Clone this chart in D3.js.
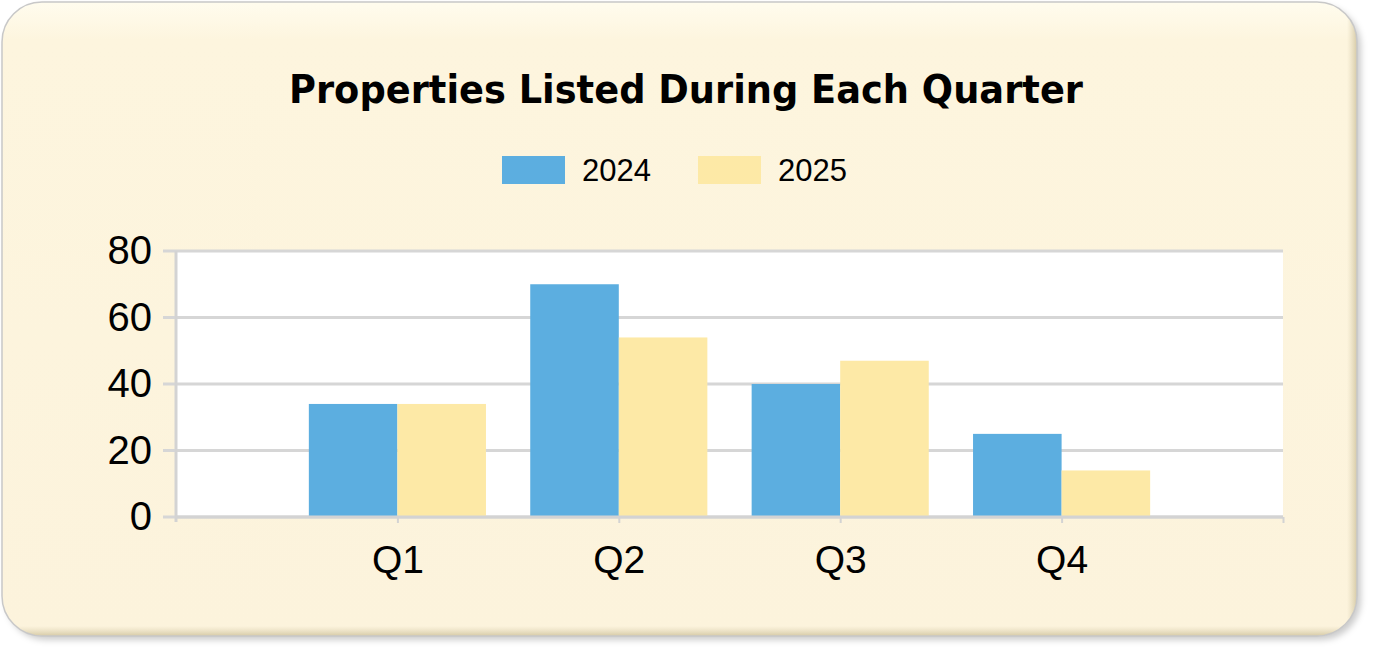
<!DOCTYPE html>
<html>
<head>
<meta charset="utf-8">
<script src="https://cdn.jsdelivr.net/npm/d3@7"></script>
<style>
html,body{margin:0;padding:0;background:#ffffff;}
svg{display:block;}
</style>
</head>
<body>
<svg id="chart" width="1373" height="651"></svg>
<script>
const categories = ["Q1", "Q2", "Q3", "Q4"];
const seriesNames = ["2024", "2025"];
const values2024 = [34, 70, 40, 25];
const values2025 = [34, 54, 47, 14];
const yTicks = [0, 20, 40, 60, 80];
const colors = ["#5caee0", "#fde9a6"];
const title = "Properties Listed During Each Quarter";

const svg = d3.select("#chart");
const defs = svg.append("defs");

const grad = defs.append("linearGradient").attr("id","bg").attr("x1",0).attr("y1",0).attr("x2",0).attr("y2",1);
grad.append("stop").attr("offset","0%").attr("stop-color","#fffcee");
grad.append("stop").attr("offset","6%").attr("stop-color","#fdf5de");
grad.append("stop").attr("offset","100%").attr("stop-color","#fcf3dc");

const sh = defs.append("filter").attr("id","shadow").attr("x","-5%").attr("y","-5%").attr("width","112%").attr("height","115%");
sh.append("feDropShadow").attr("dx",4).attr("dy",4).attr("stdDeviation",3).attr("flood-color","#000").attr("flood-opacity",0.2);

const ig = defs.append("linearGradient").attr("id","edgeR").attr("x1",0).attr("y1",0).attr("x2",1).attr("y2",0);
ig.append("stop").attr("offset","0%").attr("stop-color","#e0d6b8").attr("stop-opacity",0);
ig.append("stop").attr("offset","100%").attr("stop-color","#d6caa6").attr("stop-opacity",1);
const ib = defs.append("linearGradient").attr("id","edgeB").attr("x1",0).attr("y1",0).attr("x2",0).attr("y2",1);
ib.append("stop").attr("offset","0%").attr("stop-color","#e0d6b8").attr("stop-opacity",0);
ib.append("stop").attr("offset","100%").attr("stop-color","#d6caa6").attr("stop-opacity",1);

const card = {x:2, y:2, w:1355, h:634, r:40};
defs.append("clipPath").attr("id","cardClip").append("rect")
  .attr("x",card.x).attr("y",card.y).attr("width",card.w).attr("height",card.h).attr("rx",card.r);

svg.append("rect").attr("x",card.x).attr("y",card.y).attr("width",card.w).attr("height",card.h)
  .attr("rx",card.r).attr("fill","url(#bg)").attr("filter","url(#shadow)");
const edges = svg.append("g").attr("clip-path","url(#cardClip)");
edges.append("rect").attr("x",card.x+card.w-10).attr("y",card.y).attr("width",10).attr("height",card.h).attr("fill","url(#edgeR)");
edges.append("rect").attr("x",card.x).attr("y",card.y+card.h-10).attr("width",card.w).attr("height",10).attr("fill","url(#edgeB)");
svg.append("rect").attr("x",card.x).attr("y",card.y).attr("width",card.w).attr("height",card.h)
  .attr("rx",card.r).attr("fill","none").attr("stroke","#c8c8c8").attr("stroke-width",1.5);

// Title
svg.append("text").attr("x",686).attr("y",103).attr("text-anchor","middle")
  .attr("font-family","'DejaVu Sans', Verdana, sans-serif").attr("font-weight","bold")
  .attr("font-size",38.5).attr("fill","#000")
  .attr("textLength",794).attr("lengthAdjust","spacingAndGlyphs")
  .text(title);

// Legend
const legendX = [502, 698];
const lg = svg.append("g");
seriesNames.forEach((n,i)=>{
  lg.append("rect").attr("x",legendX[i]).attr("y",156).attr("width",63).attr("height",28).attr("fill",colors[i]);
  lg.append("text").attr("x",legendX[i]+80).attr("y",181)
    .attr("font-family","'Liberation Sans', Arial, sans-serif").attr("font-size",31).attr("fill","#000").text(n);
});

// Plot
const plot = {l:176, r:1283, t:251, b:517};
const x = d3.scaleLinear().domain([0, categories.length+1]).range([plot.l, plot.r]);
const y = d3.scaleLinear().domain([0, 80]).range([plot.b, plot.t]);
const step = x(1)-x(0);
const barW = step*0.4;

svg.append("rect").attr("x",plot.l).attr("y",plot.t).attr("width",plot.r-plot.l).attr("height",plot.b-plot.t).attr("fill","#fff");

const gridColor = "#d6d6d6";
svg.append("g").selectAll("line").data(yTicks).join("line")
  .attr("x1",plot.l-13).attr("x2",plot.r).attr("y1",d=>y(d)).attr("y2",d=>y(d))
  .attr("stroke",gridColor).attr("stroke-width",3);

// bars
const series = [values2024, values2025];
const barsG = svg.append("g");
series.forEach((vals,si)=>{
  barsG.selectAll(null).data(vals).join("rect")
    .attr("x",(d,i)=>x(i+1) - barW + si*barW)
    .attr("y",d=>y(d))
    .attr("width",barW)
    .attr("height",d=>y(0)-y(d))
    .attr("fill",colors[si]);
});

// axes
const yAxis = d3.axisLeft(y).tickValues(yTicks).tickSize(0).tickPadding(24);
const ya = svg.append("g").attr("transform",`translate(${plot.l},0)`).call(yAxis);
ya.select(".domain").remove();
ya.selectAll("text").attr("font-family","'Liberation Sans', Arial, sans-serif").attr("font-size",40).attr("fill","#000").attr("dy","0.32em");

svg.append("line").attr("x1",plot.l).attr("x2",plot.l).attr("y1",plot.t).attr("y2",plot.b+5)
  .attr("stroke","#d3d3d3").attr("stroke-width",3);
svg.append("line").attr("x1",plot.l).attr("x2",plot.r).attr("y1",plot.b).attr("y2",plot.b)
  .attr("stroke","#d3d3d3").attr("stroke-width",3);

const xAxis = d3.axisBottom(x).tickValues(d3.range(1, categories.length+2)).tickSize(6).tickPadding(22)
  .tickFormat(d=> categories[d-1] || "");
const xa = svg.append("g").attr("transform",`translate(0,${plot.b})`).call(xAxis);
xa.select(".domain").remove();
xa.selectAll("line").attr("stroke","#d3d3d3").attr("stroke-width",2);
xa.selectAll("text").attr("font-family","'Liberation Sans', Arial, sans-serif").attr("font-size",39).attr("fill","#000").attr("dy","0.71em");
</script>
</body>
</html>
